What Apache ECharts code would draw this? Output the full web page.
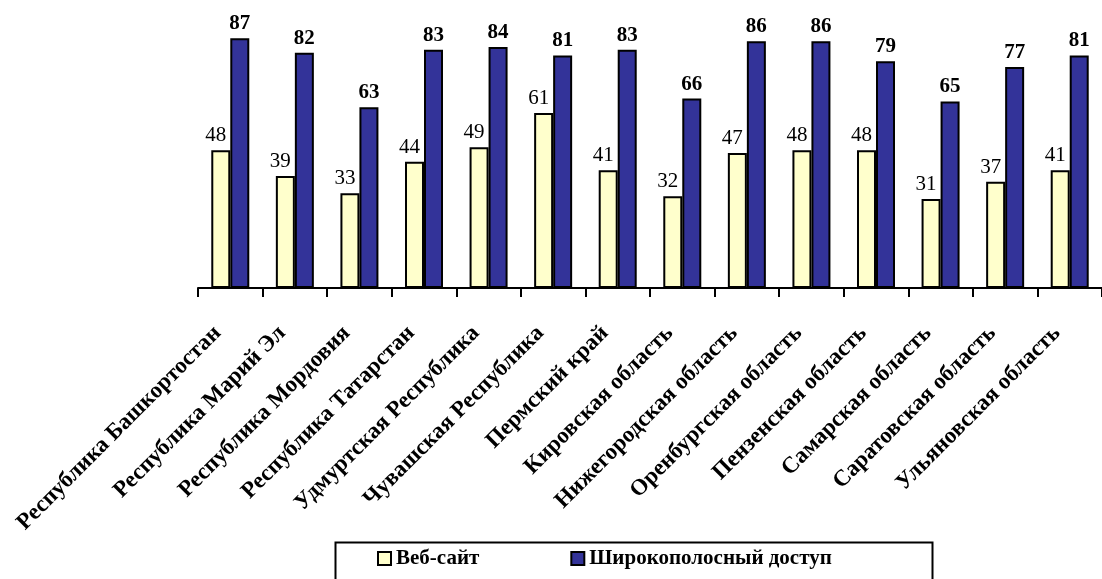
<!DOCTYPE html>
<html><head><meta charset="utf-8">
<script src="https://cdn.jsdelivr.net/npm/echarts@6/dist/echarts.min.js"></script>
<style>html,body{margin:0;padding:0;background:#fff}#c{width:1102px;height:579px}</style>
</head><body><div id="c"></div>
<script>
const categories = ["Республика Башкортостан","Республика Марий Эл","Республика Мордовия","Республика Татарстан","Удмуртская Республика","Чувашская Республика","Пермский край","Кировская область","Нижегородская область","Оренбургская область","Пензенская область","Самарская область","Саратовская область","Ульяновская область"];
const webSite = [48,39,33,44,49,61,41,32,47,48,48,31,37,41];
const broadband = [87,82,63,83,84,81,83,66,86,86,79,65,77,81];
const seriesNames = ["Веб-сайт","Широкополосный доступ"];

const serif = '"Liberation Serif","Times New Roman",serif';
const chart = echarts.init(document.getElementById('c'));
chart.setOption({
  animation:false,
  backgroundColor:'#fff',
  grid:{left:198,right:-6,top:1,bottom:291,containLabel:false},
  xAxis:{type:'category',data:categories,boundaryGap:true,
    axisLine:{lineStyle:{color:'#000',width:2}},
    axisTick:{show:true,length:9,lineStyle:{color:'#000',width:2}},
    axisLabel:{rotate:45,interval:0,margin:29,padding:[0,18,0,0],color:'#000',fontFamily:serif,fontWeight:'bold',fontSize:23}},
  yAxis:{type:'value',min:0,max:100,show:false,splitLine:{show:false}},
  legend:{left:377,top:548,padding:0,itemGap:91,itemWidth:13,itemHeight:13,icon:'rect',
    textStyle:{fontFamily:serif,fontWeight:'bold',fontSize:21,color:'#000'},
    data:seriesNames},
  graphic:[{type:'rect',left:333,top:540,shape:{width:597,height:45},style:{fill:'none',stroke:'#000',lineWidth:2},z:-1}],
  series:[
    {name:seriesNames[0],type:'bar',data:webSite,barWidth:19,barGap:'0%',
     itemStyle:{color:'#FFFFCC',borderColor:'#000',borderWidth:2},
     label:{show:true,position:'top',distance:4,offset:[-5,0],fontFamily:serif,fontSize:21,color:'#000'}},
    {name:seriesNames[1],type:'bar',data:broadband,barWidth:19,
     itemStyle:{color:'#333399',borderColor:'#000',borderWidth:2},
     label:{show:true,position:'top',distance:4,fontFamily:serif,fontWeight:'bold',fontSize:21,color:'#000'}}
  ]
});
</script></body></html>
